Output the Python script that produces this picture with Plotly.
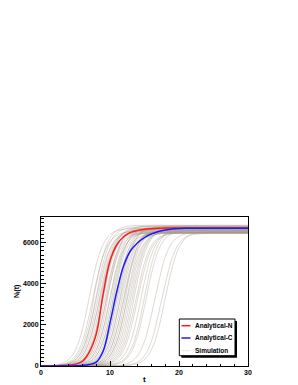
import plotly.graph_objects as go

# time axis (integer sample times)
t = list(range(31))

# analytical curves
analytical_n = [2, 5, 10, 20, 40, 90, 230, 680, 1550, 3500, 5100, 5900, 6300, 6500, 6600, 6650, 6680, 6700, 6710,
                6720, 6720, 6720, 6720, 6720, 6720, 6720, 6720, 6720, 6720, 6720, 6720]
analytical_c = [1, 1, 1, 2, 5, 12, 30, 75, 190, 720, 2100, 3650, 4900, 5620, 6000, 6250, 6420, 6540, 6620, 6670,
                6695, 6700, 6700, 6700, 6700, 6700, 6700, 6700, 6700, 6700, 6700]

# simulation runs
sim_01 = [6, 17, 44, 119, 310, 785, 1775, 3350, 4925, 5915, 6390, 6581, 6654, 6683, 6694, 6698, 6700, 6700, 6700, 6700, 6700, 6700, 6700, 6700, 6700, 6700, 6700, 6700, 6700, 6700, 6700]
sim_02 = [4, 10, 26, 73, 191, 502, 1200, 2495, 4055, 5350, 6048, 6359, 6477, 6524, 6540, 6546, 6550, 6550, 6550, 6550, 6550, 6550, 6550, 6550, 6550, 6550, 6550, 6550, 6550, 6550, 6550]
sim_03 = [2, 6, 17, 44, 119, 310, 785, 1775, 3390, 5005, 5995, 6470, 6661, 6734, 6763, 6774, 6778, 6780, 6780, 6780, 6780, 6780, 6780, 6780, 6780, 6780, 6780, 6780, 6780, 6780, 6780]
sim_04 = [2, 6, 17, 44, 119, 310, 785, 1775, 3250, 4725, 5715, 6190, 6381, 6454, 6483, 6494, 6498, 6500, 6500, 6500, 6500, 6500, 6500, 6500, 6500, 6500, 6500, 6500, 6500, 6500, 6500]
sim_05 = [1, 4, 10, 26, 73, 191, 502, 1200, 2495, 4155, 5450, 6148, 6459, 6577, 6624, 6640, 6646, 6650, 6650, 6650, 6650, 6650, 6650, 6650, 6650, 6650, 6650, 6650, 6650, 6650, 6650]
sim_06 = [1, 4, 10, 26, 73, 191, 502, 1200, 2495, 3965, 5260, 5958, 6269, 6387, 6434, 6450, 6456, 6460, 6460, 6460, 6460, 6460, 6460, 6460, 6460, 6460, 6460, 6460, 6460, 6460, 6460]
sim_07 = [0, 2, 6, 17, 44, 119, 310, 785, 1775, 3400, 5025, 6015, 6490, 6681, 6754, 6783, 6794, 6798, 6800, 6800, 6800, 6800, 6800, 6800, 6800, 6800, 6800, 6800, 6800, 6800, 6800]
sim_08 = [0, 2, 6, 17, 44, 119, 310, 785, 1775, 3290, 4805, 5795, 6270, 6461, 6534, 6563, 6574, 6578, 6580, 6580, 6580, 6580, 6580, 6580, 6580, 6580, 6580, 6580, 6580, 6580, 6580]
sim_09 = [0, 1, 4, 10, 26, 73, 191, 502, 1200, 2495, 4225, 5520, 6218, 6529, 6647, 6694, 6710, 6716, 6720, 6720, 6720, 6720, 6720, 6720, 6720, 6720, 6720, 6720, 6720, 6720, 6720]
sim_10 = [0, 1, 4, 10, 26, 73, 191, 502, 1200, 2495, 3985, 5280, 5978, 6289, 6407, 6454, 6470, 6476, 6480, 6480, 6480, 6480, 6480, 6480, 6480, 6480, 6480, 6480, 6480, 6480, 6480]
sim_11 = [0, 0, 2, 6, 17, 44, 119, 310, 785, 1775, 3325, 4875, 5865, 6340, 6531, 6604, 6633, 6644, 6648, 6650, 6650, 6650, 6650, 6650, 6650, 6650, 6650, 6650, 6650, 6650, 6650]
sim_12 = [0, 0, 2, 6, 17, 44, 119, 310, 785, 1775, 3250, 4725, 5715, 6190, 6381, 6454, 6483, 6494, 6498, 6500, 6500, 6500, 6500, 6500, 6500, 6500, 6500, 6500, 6500, 6500, 6500]
sim_13 = [0, 0, 1, 4, 10, 26, 73, 191, 502, 1200, 2495, 4265, 5560, 6258, 6569, 6687, 6734, 6750, 6756, 6760, 6760, 6760, 6760, 6760, 6760, 6760, 6760, 6760, 6760, 6760, 6760]
sim_14 = [0, 0, 1, 4, 10, 26, 73, 191, 502, 1200, 2495, 4065, 5360, 6058, 6369, 6487, 6534, 6550, 6556, 6560, 6560, 6560, 6560, 6560, 6560, 6560, 6560, 6560, 6560, 6560, 6560]
sim_15 = [0, 0, 0, 2, 6, 17, 44, 119, 310, 785, 1775, 3350, 4925, 5915, 6390, 6581, 6654, 6683, 6694, 6698, 6700, 6700, 6700, 6700, 6700, 6700, 6700, 6700, 6700, 6700, 6700]
sim_16 = [0, 0, 0, 2, 6, 17, 44, 119, 310, 785, 1775, 3235, 4695, 5685, 6160, 6351, 6424, 6453, 6464, 6468, 6470, 6470, 6470, 6470, 6470, 6470, 6470, 6470, 6470, 6470, 6470]
sim_17 = [0, 0, 0, 1, 4, 10, 26, 73, 191, 502, 1200, 2495, 4295, 5590, 6288, 6599, 6717, 6764, 6780, 6786, 6790, 6790, 6790, 6790, 6790, 6790, 6790, 6790, 6790, 6790, 6790]
sim_18 = [0, 0, 0, 1, 4, 10, 26, 73, 191, 502, 1200, 2495, 4035, 5330, 6028, 6339, 6457, 6504, 6520, 6526, 6530, 6530, 6530, 6530, 6530, 6530, 6530, 6530, 6530, 6530, 6530]
sim_19 = [0, 0, 0, 0, 2, 6, 17, 44, 119, 310, 785, 1775, 3310, 4845, 5835, 6310, 6501, 6574, 6603, 6614, 6618, 6620, 6620, 6620, 6620, 6620, 6620, 6620, 6620, 6620, 6620]
sim_20 = [0, 0, 0, 0, 2, 6, 17, 44, 119, 310, 785, 1775, 3230, 4685, 5675, 6150, 6341, 6414, 6443, 6454, 6458, 6460, 6460, 6460, 6460, 6460, 6460, 6460, 6460, 6460, 6460]
sim_21 = [0, 0, 0, 0, 1, 4, 10, 26, 73, 191, 502, 1200, 2495, 4245, 5540, 6238, 6549, 6667, 6714, 6730, 6736, 6740, 6740, 6740, 6740, 6740, 6740, 6740, 6740, 6740, 6740]
sim_22 = [0, 0, 0, 0, 1, 4, 10, 26, 73, 191, 502, 1200, 2495, 4005, 5300, 5998, 6309, 6427, 6474, 6490, 6496, 6500, 6500, 6500, 6500, 6500, 6500, 6500, 6500, 6500, 6500]
sim_23 = [0, 0, 0, 0, 0, 2, 6, 17, 44, 119, 310, 785, 1775, 3290, 4805, 5795, 6270, 6461, 6534, 6563, 6574, 6578, 6580, 6580, 6580, 6580, 6580, 6580, 6580, 6580, 6580]
sim_24 = [0, 0, 0, 0, 0, 1, 4, 10, 26, 73, 191, 502, 1200, 2495, 4185, 5480, 6178, 6489, 6607, 6654, 6670, 6676, 6680, 6680, 6680, 6680, 6680, 6680, 6680, 6680, 6680]
sim_25 = [0, 0, 0, 0, 0, 0, 2, 6, 17, 44, 119, 310, 785, 1775, 3240, 4705, 5695, 6170, 6361, 6434, 6463, 6474, 6478, 6480, 6480, 6480, 6480, 6480, 6480, 6480, 6480]
sim_26 = [0, 0, 0, 0, 0, 0, 1, 4, 10, 26, 73, 191, 502, 1200, 2495, 4105, 5400, 6098, 6409, 6527, 6574, 6590, 6596, 6600, 6600, 6600, 6600, 6600, 6600, 6600, 6600]
sim_27 = [0, 0, 0, 0, 0, 0, 0, 2, 6, 17, 44, 119, 310, 785, 1775, 3350, 4925, 5915, 6390, 6581, 6654, 6683, 6694, 6698, 6700, 6700, 6700, 6700, 6700, 6700, 6700]
sim_28 = [0, 0, 0, 0, 0, 0, 0, 0, 1, 4, 10, 26, 73, 191, 502, 1200, 2495, 4005, 5300, 5998, 6309, 6427, 6474, 6490, 6496, 6500, 6500, 6500, 6500, 6500, 6500]
sim_29 = [0, 0, 0, 0, 0, 0, 0, 0, 0, 1, 4, 10, 26, 73, 191, 502, 1200, 2495, 3965, 5260, 5958, 6269, 6387, 6434, 6450, 6456, 6460, 6460, 6460, 6460, 6460]
sim_30 = [0, 0, 0, 0, 0, 0, 0, 0, 0, 0, 2, 6, 17, 44, 119, 310, 785, 1775, 3275, 4775, 5765, 6240, 6431, 6504, 6533, 6544, 6548, 6550, 6550, 6550, 6550]
sim_31 = [3, 8, 21, 57, 152, 397, 977, 2119, 3959, 5378, 6223, 6604, 6757, 6816, 6837, 6845, 6850, 6850, 6850, 6850, 6850, 6850, 6850, 6850, 6850, 6850, 6850, 6850, 6850, 6850, 6850]
sim_32 = [2, 5, 13, 34, 93, 246, 627, 1472, 2891, 4501, 5643, 6223, 6468, 6563, 6599, 6612, 6617, 6620, 6620, 6620, 6620, 6620, 6620, 6620, 6620, 6620, 6620, 6620, 6620, 6620, 6620]
sim_33 = [1, 3, 8, 21, 57, 152, 397, 977, 2119, 3829, 5248, 6093, 6474, 6627, 6686, 6707, 6715, 6720, 6720, 6720, 6720, 6720, 6720, 6720, 6720, 6720, 6720, 6720, 6720, 6720, 6720]
sim_34 = [1, 2, 5, 13, 34, 93, 246, 627, 1472, 2891, 4381, 5523, 6103, 6348, 6443, 6479, 6492, 6497, 6500, 6500, 6500, 6500, 6500, 6500, 6500, 6500, 6500, 6500, 6500, 6500, 6500]
sim_35 = [0, 1, 3, 8, 21, 57, 152, 397, 977, 2119, 3939, 5358, 6203, 6584, 6737, 6796, 6817, 6825, 6830, 6830, 6830, 6830, 6830, 6830, 6830, 6830, 6830, 6830, 6830, 6830, 6830]
sim_36 = [0, 1, 2, 5, 13, 34, 93, 246, 627, 1472, 2891, 4501, 5643, 6223, 6468, 6563, 6599, 6612, 6617, 6620, 6620, 6620, 6620, 6620, 6620, 6620, 6620, 6620, 6620, 6620, 6620]
sim_37 = [0, 0, 1, 3, 8, 21, 57, 152, 397, 977, 2119, 3589, 5008, 5853, 6234, 6387, 6446, 6467, 6475, 6480, 6480, 6480, 6480, 6480, 6480, 6480, 6480, 6480, 6480, 6480, 6480]
sim_38 = [0, 0, 1, 2, 5, 13, 34, 93, 246, 627, 1472, 2891, 4581, 5723, 6303, 6548, 6643, 6679, 6692, 6697, 6700, 6700, 6700, 6700, 6700, 6700, 6700, 6700, 6700, 6700, 6700]
sim_39 = [0, 0, 0, 1, 3, 8, 21, 57, 152, 397, 977, 2119, 3709, 5128, 5973, 6354, 6507, 6566, 6587, 6595, 6600, 6600, 6600, 6600, 6600, 6600, 6600, 6600, 6600, 6600, 6600]
sim_40 = [0, 0, 0, 1, 2, 5, 13, 34, 93, 246, 627, 1472, 2891, 4681, 5823, 6403, 6648, 6743, 6779, 6792, 6797, 6800, 6800, 6800, 6800, 6800, 6800, 6800, 6800, 6800, 6800]
sim_41 = [0, 0, 0, 0, 1, 3, 8, 21, 57, 152, 397, 977, 2119, 3659, 5078, 5923, 6304, 6457, 6516, 6537, 6545, 6550, 6550, 6550, 6550, 6550, 6550, 6550, 6550, 6550, 6550]
sim_42 = [0, 0, 0, 0, 1, 2, 5, 13, 34, 93, 246, 627, 1472, 2891, 4531, 5673, 6253, 6498, 6593, 6629, 6642, 6647, 6650, 6650, 6650, 6650, 6650, 6650, 6650, 6650, 6650]
sim_43 = [0, 0, 0, 0, 0, 1, 3, 8, 21, 57, 152, 397, 977, 2119, 3589, 5008, 5853, 6234, 6387, 6446, 6467, 6475, 6480, 6480, 6480, 6480, 6480, 6480, 6480, 6480, 6480]
sim_44 = [0, 0, 0, 0, 0, 0, 1, 2, 5, 13, 34, 93, 246, 627, 1472, 2891, 4481, 5623, 6203, 6448, 6543, 6579, 6592, 6597, 6600, 6600, 6600, 6600, 6600, 6600, 6600]

simulations = [sim_01, sim_02, sim_03, sim_04, sim_05, sim_06, sim_07, sim_08, sim_09, sim_10,
               sim_11, sim_12, sim_13, sim_14, sim_15, sim_16, sim_17, sim_18, sim_19, sim_20,
               sim_21, sim_22, sim_23, sim_24, sim_25, sim_26, sim_27, sim_28, sim_29, sim_30,
               sim_31, sim_32, sim_33, sim_34, sim_35, sim_36, sim_37, sim_38, sim_39, sim_40,
               sim_41, sim_42, sim_43, sim_44]

legend_labels = ["Analytical-N", "Analytical-C", "Simulation"]
x_ticks = [0, 10, 20, 30]
y_ticks = [0, 2000, 4000, 6000]

W, H = 298, 385
L, R, T, B = 41, 50, 217, 19
PW, PH = W - L - R, H - T - B

def px(x):
    return (x - L) / PW

def py(y):
    return (T + PH - y) / PH

fig = go.Figure()
for vals in simulations:
    fig.add_trace(go.Scatter(x=t, y=vals, mode="lines", showlegend=False, hoverinfo="skip",
                             line=dict(color="rgba(168,155,142,0.42)", width=0.9, shape="spline", smoothing=1.0)))
fig.add_trace(go.Scatter(x=t, y=analytical_n, mode="lines", showlegend=False,
                         line=dict(color="#ff1a1a", width=1.5, shape="spline", smoothing=1.1)))
fig.add_trace(go.Scatter(x=t, y=analytical_c, mode="lines", showlegend=False,
                         line=dict(color="#1a1aff", width=1.5, shape="spline", smoothing=1.1)))

font_b = dict(family="Liberation Sans", size=7, color="black", weight="bold")

fig.update_xaxes(range=[0, 30], tickvals=x_ticks, ticks="inside", ticklen=5, tickwidth=1, tickcolor="black",
                 minor=dict(dtick=2, tick0=0, ticks="inside", ticklen=2.5, tickcolor="black", tickwidth=1),
                 showline=True, linecolor="black", linewidth=1, mirror=True, showgrid=False, zeroline=False,
                 tickfont=font_b, automargin=False)
fig.update_yaxes(range=[0, 7250], tickvals=y_ticks, ticks="inside", ticklen=5, tickwidth=1, tickcolor="black",
                 minor=dict(dtick=200, tick0=0, ticks="inside", ticklen=2.5, tickcolor="black", tickwidth=1),
                 showline=True, linecolor="black", linewidth=1, mirror=True, showgrid=False, zeroline=False,
                 tickfont=font_b, automargin=False)

shapes = []
# legend shadow and box
shapes.append(dict(type="rect", xref="paper", yref="paper", layer="above",
                   x0=px(181.3), x1=px(237), y0=py(357.7), y1=py(321),
                   fillcolor="black", line=dict(width=0)))
shapes.append(dict(type="rect", xref="paper", yref="paper", layer="above",
                   x0=px(179.3), x1=px(235), y0=py(355.7), y1=py(319),
                   fillcolor="white", line=dict(color="black", width=1)))
leg_colors = ["#ff1a1a", "#1a1aff", "#e4e4e4"]
leg_y = [325.7, 338.0, 350.7]
annotations = []
for lab, col, yy in zip(legend_labels, leg_colors, leg_y):
    shapes.append(dict(type="line", xref="paper", yref="paper", layer="above",
                       x0=px(181.5), x1=px(190.5), y0=py(yy), y1=py(yy),
                       line=dict(color=col, width=1.5 if col != "#e4e4e4" else 1)))
    annotations.append(dict(text=lab, xref="paper", yref="paper", x=px(193.3), y=py(yy),
                            xanchor="left", yanchor="middle", showarrow=False,
                            font=dict(family="Liberation Sans", size=6.5, color="black", weight="bold")))

annotations.append(dict(text="t", xref="paper", yref="paper", x=0.5, y=py(379), xanchor="center",
                        yanchor="middle", showarrow=False, font=dict(family="Liberation Sans", size=8, color="black", weight="bold")))
annotations.append(dict(text="N<sub>I</sub>(t)", xref="paper", yref="paper", x=px(16.5), y=0.5, xanchor="center",
                        yanchor="middle", textangle=-90, showarrow=False,
                        font=dict(family="Liberation Sans", size=7, color="black", weight="bold")))

fig.update_layout(width=W, height=H, margin=dict(l=L, r=R, t=T, b=B, pad=0),
                  paper_bgcolor="white", plot_bgcolor="white", showlegend=False,
                  shapes=shapes, annotations=annotations)

fig.write_html("out.html", config={"displayModeBar": False},
               post_script="document.body.style.margin='0';document.body.style.padding='0';document.body.style.overflow='hidden';")
